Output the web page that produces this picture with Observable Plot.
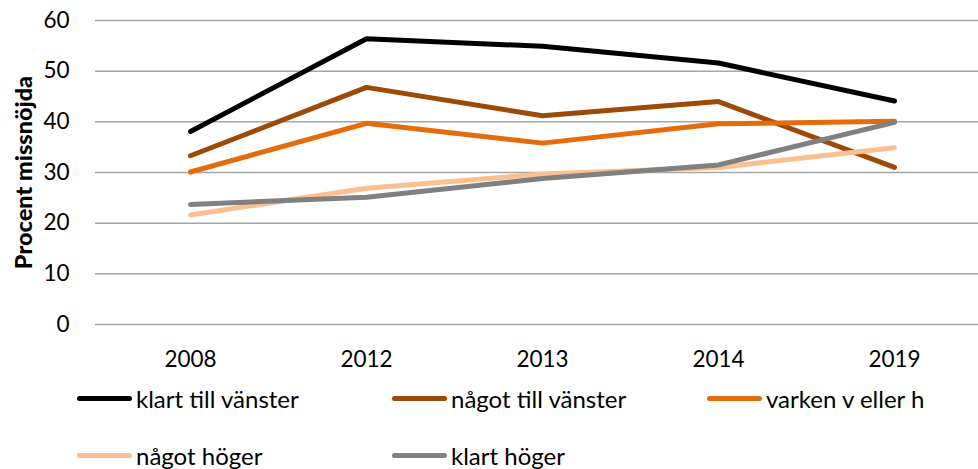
<!DOCTYPE html>
<html>
<head>
<meta charset="utf-8">
<script src="https://cdn.jsdelivr.net/npm/d3@7"></script>
<script src="https://cdn.jsdelivr.net/npm/@observablehq/plot@0.6"></script>
<style>
  html, body { margin: 0; padding: 0; background: #fff; }
  #wrap { position: relative; width: 978px; height: 469px; font-family: Lato, "Open Sans", sans-serif; color: #000; }
  #wrap svg { display: block; font-family: Lato, "Open Sans", sans-serif; }
  #wrap g[aria-label="y-axis label"] text { font-weight: 900; font-size: 23.5px; }
  #legend { position: absolute; left: 77px; top: 370px; display: grid; grid-template-columns: repeat(3, 315px); grid-auto-rows: 57px; }
  .item { display: flex; align-items: center; font-size: 24px; white-space: nowrap; }
  .swatch { width: 55px; height: 5px; border-radius: 3px; margin-right: 4px; }
</style>
</head>
<body>
<div id="wrap"><div id="legend"></div></div>
<script>
const years = ["2008", "2012", "2013", "2014", "2019"];
const seriesNames = ["klart till vänster", "något till vänster", "varken v eller h", "något höger", "klart höger"];
const klartVanster = [38.1, 56.4, 54.9, 51.6, 44.1];
const nagotVanster = [33.3, 46.8, 41.2, 44.0, 31.0];
const varken = [30.1, 39.7, 35.8, 39.6, 40.1];
const nagotHoger = [21.6, 26.9, 29.7, 31.0, 34.9];
const klartHoger = [23.7, 25.1, 28.8, 31.5, 39.9];
const colors = ["#000000", "#9C4A06", "#E46C0A", "#FAC090", "#808080"];
const yTicks = [0, 10, 20, 30, 40, 50, 60];

const allSeries = [klartVanster, nagotVanster, varken, nagotHoger, klartHoger];
const data = [];
allSeries.forEach((vals, i) => vals.forEach((v, j) => data.push({ series: seriesNames[i], year: years[j], value: v })));

const chart = Plot.plot({
  width: 978,
  height: 375,
  marginTop: 20,
  marginBottom: 51,
  marginLeft: 95,
  marginRight: 0,
  style: { fontSize: "22.5px", fontFamily: "Lato, 'Open Sans', sans-serif", color: "#000", overflow: "visible" },
  x: { type: "point", domain: years, range: [188, 895], padding: 0 },
  y: { domain: [0, 60] },
  color: { domain: seriesNames, range: colors },
  marks: [
    Plot.gridY(yTicks, { stroke: "#A6A6A6", strokeOpacity: 1, strokeWidth: 1.5 }),
    Plot.axisY(yTicks, { tickSize: 0, tickPadding: 26, label: "Procent missnöjda", labelAnchor: "center", labelOffset: 80, labelArrow: "none" }),
    Plot.axisX(years, { tickSize: 0, tickPadding: 27, label: null }),
    Plot.line(data, { x: "year", y: "value", z: "series", stroke: "series", strokeWidth: 5, strokeLinecap: "round", strokeLinejoin: "round" })
  ]
});
document.getElementById("wrap").prepend(chart);

const legend = document.getElementById("legend");
seriesNames.forEach((name, i) => {
  const item = document.createElement("div");
  item.className = "item";
  const sw = document.createElement("span");
  sw.className = "swatch";
  sw.style.background = colors[i];
  const label = document.createElement("span");
  label.textContent = name;
  item.append(sw, label);
  legend.append(item);
});
</script>
</body>
</html>
